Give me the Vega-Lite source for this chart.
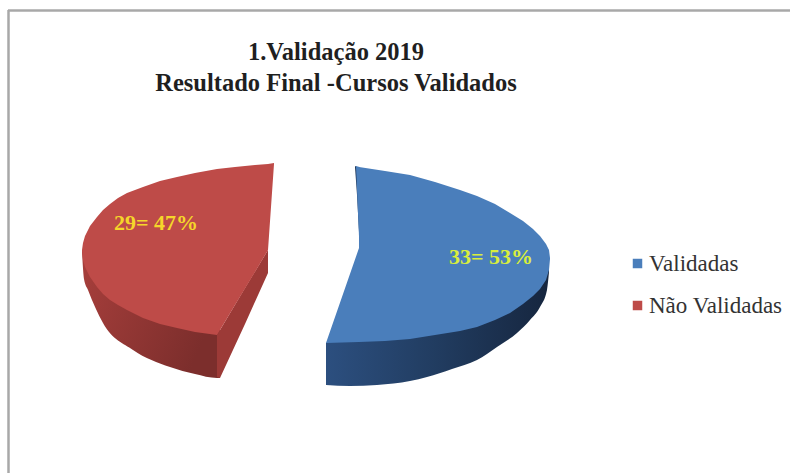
{
"$schema":"https://vega.github.io/schema/vega-lite/v6.json",
"width":790,"height":473,"padding":0,"autosize":{"type":"none"},
"background":"white",
"view":{"stroke":null},
"title":{"text":["1.Validação 2019","Resultado Final -Cursos Validados"],"font":"Liberation Serif","fontSize":24.5,"fontWeight":"bold","color":"#1f1f1f","anchor":"middle","align":"center","dx":-59,"dy":96,"lineHeight":31,"offset":0},
"datasets":{
"faces":[
{"slice":"Validadas","part":"main","x":326,"upper":343,"lower":343},
{"slice":"Validadas","part":"main","x":359,"upper":248,"lower":342},
{"slice":"Validadas","part":"main","x":359.01,"upper":167,"lower":342},
{"slice":"Validadas","part":"main","x":385,"upper":171,"lower":341},
{"slice":"Validadas","part":"main","x":410,"upper":175,"lower":339},
{"slice":"Validadas","part":"main","x":435,"upper":182,"lower":335},
{"slice":"Validadas","part":"main","x":460,"upper":190,"lower":331},
{"slice":"Validadas","part":"main","x":477,"upper":196,"lower":327},
{"slice":"Validadas","part":"main","x":495,"upper":204,"lower":320},
{"slice":"Validadas","part":"main","x":510,"upper":213,"lower":313},
{"slice":"Validadas","part":"main","x":523,"upper":221,"lower":304},
{"slice":"Validadas","part":"main","x":533,"upper":229,"lower":296},
{"slice":"Validadas","part":"main","x":540,"upper":236,"lower":289},
{"slice":"Validadas","part":"main","x":546,"upper":244,"lower":280},
{"slice":"Validadas","part":"main","x":549,"upper":250,"lower":270},
{"slice":"Validadas","part":"main","x":550,"upper":258,"lower":259},
{"slice":"Validadas","part":"tip","x":356,"upper":166,"lower":167},
{"slice":"Validadas","part":"tip","x":359.5,"upper":167,"lower":248},
{"slice":"Não Validadas","part":"main","x":82,"upper":250,"lower":251},
{"slice":"Não Validadas","part":"main","x":83,"upper":243,"lower":260},
{"slice":"Não Validadas","part":"main","x":85,"upper":236,"lower":267},
{"slice":"Não Validadas","part":"main","x":90,"upper":226,"lower":277},
{"slice":"Não Validadas","part":"main","x":97,"upper":217,"lower":287},
{"slice":"Não Validadas","part":"main","x":103,"upper":210,"lower":294},
{"slice":"Não Validadas","part":"main","x":110,"upper":204,"lower":300},
{"slice":"Não Validadas","part":"main","x":118,"upper":198,"lower":305},
{"slice":"Não Validadas","part":"main","x":127,"upper":193,"lower":310},
{"slice":"Não Validadas","part":"main","x":143,"upper":187,"lower":318},
{"slice":"Não Validadas","part":"main","x":160,"upper":181,"lower":324},
{"slice":"Não Validadas","part":"main","x":177,"upper":177,"lower":328},
{"slice":"Não Validadas","part":"main","x":195,"upper":173,"lower":332},
{"slice":"Não Validadas","part":"main","x":217,"upper":169,"lower":335},
{"slice":"Não Validadas","part":"main","x":235,"upper":167,"lower":305},
{"slice":"Não Validadas","part":"main","x":255,"upper":165,"lower":272},
{"slice":"Não Validadas","part":"main","x":268,"upper":164,"lower":250},
{"slice":"Não Validadas","part":"main","x":274,"upper":163,"lower":164}
],
"blueWall":[
{"x":326,"upper":343,"lower":385},
{"x":350,"upper":335,"lower":386},
{"x":377,"upper":330,"lower":385},
{"x":410,"upper":330,"lower":381},
{"x":427,"upper":325,"lower":377},
{"x":452,"upper":320,"lower":369},
{"x":477,"upper":315,"lower":360},
{"x":497,"upper":305,"lower":347},
{"x":517,"upper":295,"lower":333},
{"x":530,"upper":285,"lower":320},
{"x":540,"upper":280,"lower":307},
{"x":547,"upper":265,"lower":290},
{"x":549,"upper":255,"lower":272}
],
"blueCut":[
{"x":355,"upper":166,"lower":167},
{"x":357,"upper":167,"lower":195},
{"x":360,"upper":240,"lower":250}
],
"redWall":[
{"x":82,"upper":250,"lower":252},
{"x":84,"upper":250,"lower":279},
{"x":88,"upper":260,"lower":290},
{"x":103,"upper":280,"lower":323},
{"x":133,"upper":300,"lower":350},
{"x":170,"upper":315,"lower":367},
{"x":195,"upper":320,"lower":374},
{"x":217,"upper":325,"lower":378},
{"x":220,"upper":325,"lower":378}
],
"redCut":[
{"x":217,"upper":335,"lower":377},
{"x":220,"upper":330,"lower":378},
{"x":245,"upper":288,"lower":324},
{"x":268,"upper":250,"lower":273}
],
"labels":[
{"slice":"Validadas","count":33,"share":53,"text":"33= 53%","x":491,"y":257},
{"slice":"Não Validadas","count":29,"share":47,"text":"29= 47%","x":156,"y":223}
]
},
"layer":[
{"data":{"values":[{"line":"left"}]},"mark":{"type":"rule","stroke":"#a8a8a8","strokeWidth":2.5},"encoding":{"x":{"datum":8.5,"type":"quantitative","scale":{"domain":[0,790],"range":[0,790],"nice":false,"zero":false},"axis":null},"y":{"datum":10,"type":"quantitative","scale":{"domain":[0,473],"range":[0,473],"nice":false,"zero":false},"axis":null},"y2":{"datum":473}}},
{"data":{"values":[{"line":"top"}]},"mark":{"type":"rule","stroke":"#a8a8a8","strokeWidth":2.5},"encoding":{"y":{"datum":10.5,"type":"quantitative","scale":{"domain":[0,473],"range":[0,473],"nice":false,"zero":false},"axis":null},"x":{"datum":8,"type":"quantitative","scale":{"domain":[0,790],"range":[0,790],"nice":false,"zero":false},"axis":null},"x2":{"datum":790}}},
{"data":{"name":"redWall"},"mark":{"type":"area","interpolate":"monotone","color":{"gradient":"linear","x1":0,"y1":0,"x2":1,"y2":0.4,"stops":[{"offset":0,"color":"#a83f3c"},{"offset":1,"color":"#7c2e2c"}]}},"encoding":{"x":{"field":"x","type":"quantitative","scale":{"domain":[0,790],"range":[0,790],"nice":false,"zero":false},"axis":null},"y":{"field":"upper","type":"quantitative","scale":{"domain":[0,473],"range":[0,473],"nice":false,"zero":false},"axis":null},"y2":{"field":"lower"}}},
{"data":{"name":"redCut"},"mark":{"type":"area","color":"#9c3a37"},"encoding":{"x":{"field":"x","type":"quantitative","scale":{"domain":[0,790],"range":[0,790],"nice":false,"zero":false},"axis":null},"y":{"field":"upper","type":"quantitative","scale":{"domain":[0,473],"range":[0,473],"nice":false,"zero":false},"axis":null},"y2":{"field":"lower"}}},
{"data":{"name":"blueWall"},"mark":{"type":"area","interpolate":"monotone","color":{"gradient":"linear","x1":0,"y1":0,"x2":1,"y2":0,"stops":[{"offset":0,"color":"#2c4f7f"},{"offset":0.5,"color":"#213c60"},{"offset":1,"color":"#16263f"}]}},"encoding":{"x":{"field":"x","type":"quantitative","scale":{"domain":[0,790],"range":[0,790],"nice":false,"zero":false},"axis":null},"y":{"field":"upper","type":"quantitative","scale":{"domain":[0,473],"range":[0,473],"nice":false,"zero":false},"axis":null},"y2":{"field":"lower"}}},
{"data":{"name":"blueCut"},"mark":{"type":"area","color":"#1d3557"},"encoding":{"x":{"field":"x","type":"quantitative","scale":{"domain":[0,790],"range":[0,790],"nice":false,"zero":false},"axis":null},"y":{"field":"upper","type":"quantitative","scale":{"domain":[0,473],"range":[0,473],"nice":false,"zero":false},"axis":null},"y2":{"field":"lower"}}},
{"data":{"name":"faces"},"mark":{"type":"area"},"encoding":{"x":{"field":"x","type":"quantitative","scale":{"domain":[0,790],"range":[0,790],"nice":false,"zero":false},"axis":null},"y":{"field":"upper","type":"quantitative","scale":{"domain":[0,473],"range":[0,473],"nice":false,"zero":false},"axis":null},"y2":{"field":"lower"},"detail":{"field":"part"},
"color":{"field":"slice","type":"nominal","sort":["Validadas","Não Validadas"],"scale":{"domain":["Validadas","Não Validadas"],"range":["#4a7ebb","#be4b48"]},
"legend":{"title":null,"orient":"none","legendX":626,"legendY":252,"symbolType":"square","symbolSize":90,"symbolStrokeWidth":0,"labelFont":"Liberation Serif","labelFontSize":23,"labelColor":"#333333","rowPadding":18,"labelOffset":0,"labelLimit":200}}}},
{"data":{"name":"labels"},"mark":{"type":"text","font":"Liberation Serif","fontWeight":"bold","fontSize":22,"align":"center","baseline":"middle","color":{"expr":"datum.slice==='Validadas'?'#d9ee3c':'#f5d62a'"}},"encoding":{"x":{"field":"x","type":"quantitative","scale":{"domain":[0,790],"range":[0,790],"nice":false,"zero":false},"axis":null},"y":{"field":"y","type":"quantitative","scale":{"domain":[0,473],"range":[0,473],"nice":false,"zero":false},"axis":null},"text":{"field":"text"}}}
]
}
